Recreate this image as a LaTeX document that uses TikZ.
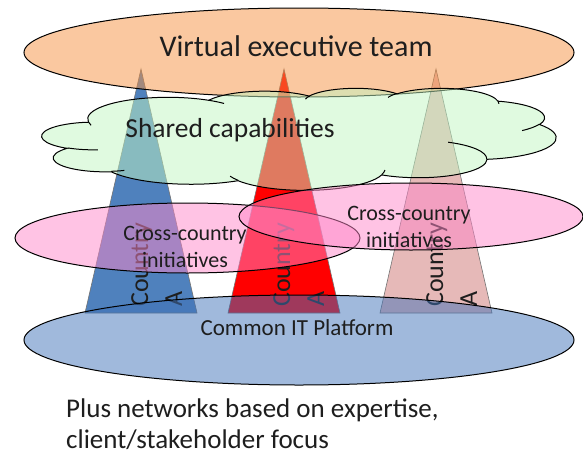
\documentclass[tikz,border=0pt]{standalone}
\usepackage{fontspec}
\setmainfont{Carlito}
\definecolor{orangebase}{RGB}{245,145,65}
\definecolor{cloudbase}{RGB}{193,245,193}
\definecolor{pinkbase}{RGB}{255,135,201}
\definecolor{bluebase}{RGB}{65,115,185}
\definecolor{triblue}{RGB}{79,129,189}
\definecolor{trired}{RGB}{255,0,0}
\definecolor{tripink}{RGB}{230,185,184}
\definecolor{txt}{RGB}{30,30,30}
% PowerPoint-style arc: radii, visual start angle, sweep
\newcommand\carc[4]{arc[x radius=#1, y radius=#2,
  start angle={atan2((#1)*sin(#3),(#2)*cos(#3))},
  delta angle={mod(atan2((#1)*sin((#3)+(#4)),(#2)*cos((#3)+(#4)))-atan2((#1)*sin(#3),(#2)*cos(#3))+720,360)}]}
\begin{document}
\begin{tikzpicture}[x=1pt,y=-1pt,
  tri/.style={draw=black!55, line width=0.6pt},
  ell/.style={draw=black, line width=1pt, fill opacity=0.5, draw opacity=1},
  countrytext/.style={rotate=90, anchor=base west, inner sep=0pt, align=left,
    text=txt, font=\fontsize{26}{34}\selectfont},
  lbl/.style={inner sep=0pt, text=txt}]
\useasboundingbox (0,0) rectangle (583,455);
% country triangles
\filldraw[tri, fill=triblue] (141,69) -- (197,313) -- (85,313) -- cycle;
\filldraw[tri, fill=trired] (284,69) -- (340,313) -- (228,313) -- cycle;
\filldraw[tri, fill=tripink] (436,69) -- (492,313) -- (380,313) -- cycle;
\node[countrytext] (c1) at (182,307) {Country\\A};
\node[countrytext] (c2) at (324,307) {Country\\A};
\node[countrytext] (c3) at (477,307) {Country\\A};
% virtual executive team
\draw[ell, fill=orangebase] (299,52.5) ellipse [x radius=275, y radius=44.5];
% shared capabilities cloud
\begin{scope}[shift={(42,88)}, xscale=514/43.2, yscale=102/43.2]
\filldraw[ell, fill=cloudbase] (3.9,14.37)
  \carc{6.753}{9.19}{-190.4875}{123.7805}
  \carc{5.333}{7.267}{-144.1024}{89.9452}
  \carc{4.365}{5.945}{-145.8079}{99.7230}
  \carc{4.857}{6.595}{-130.9861}{117.2417}
  \carc{5.333}{7.273}{-78.7089}{109.0269}
  \carc{6.775}{9.22}{-46.2673}{130.2690}
  \carc{5.785}{7.867}{0.6250}{114.0333}
  \carc{6.752}{9.215}{22.4516}{115.1726}
  \carc{7.72}{10.543}{66.2426}{75.7110}
  \carc{4.36}{5.918}{-274.9421}{146.7356}
  \carc{4.345}{5.945}{-246.8285}{152.5189} -- cycle;
\draw[draw=black, line width=1pt]
  (4.693,26.177) \carc{4.345}{5.945}{86.7420}{26.4295}
  (6.928,34.899) \carc{4.36}{5.918}{73.6105}{11.4475}
  (16.478,39.09) \carc{6.752}{9.215}{137.6242}{14.0811}
  (28.827,34.751) \carc{6.752}{9.215}{6.4533}{15.9984}
  (34.129,22.954) \carc{5.785}{7.867}{-70.2924}{70.9174}
  (41.798,15.354) \carc{5.333}{7.273}{30.3180}{27.7515}
  (38.324,5.426) \carc{4.857}{6.595}{-13.7443}{14.8589}
  (29.078,3.952) \carc{4.857}{6.595}{-149.1815}{18.1954}
  (22.141,4.72) \carc{4.365}{5.945}{-163.4943}{17.6864}
  (14.0,5.192) \carc{6.753}{9.19}{-66.7070}{12.3194}
  (4.127,15.789) \carc{6.753}{9.19}{157.6544}{11.8582};
\end{scope}
% cross-country initiatives
\draw[ell, fill=pinkbase] (187.5,238) ellipse [x radius=172.5, y radius=35];
\draw[ell, fill=pinkbase] (411,216.5) ellipse [x radius=172, y radius=33.5];
% common IT platform
\draw[ell, fill=bluebase] (299,340) ellipse [x radius=275, y radius=45];
% labels
\node[lbl, anchor=base, font=\fontsize{30}{36}\selectfont] (vet) at (296,56) {Virtual executive team};
\node[lbl, anchor=base, font=\fontsize{27.5}{33}\selectfont] (sc) at (230,137) {Shared capabilities};
\node[lbl, anchor=base, align=center, font=\fontsize{22}{27}\selectfont] (cc1) at (185,267) {Cross-country\\initiatives};
\node[lbl, anchor=base, align=center, font=\fontsize{22}{27}\selectfont] (cc2) at (409,247) {Cross-country\\initiatives};
\node[lbl, anchor=base, font=\fontsize{23}{27}\selectfont] (cit) at (297,335) {Common IT Platform};
\node[lbl, anchor=base west, align=left, font=\fontsize{27}{31}\selectfont] (net) at (66,448) {Plus networks based on expertise,\\client/stakeholder focus};
\end{tikzpicture}
\end{document}
